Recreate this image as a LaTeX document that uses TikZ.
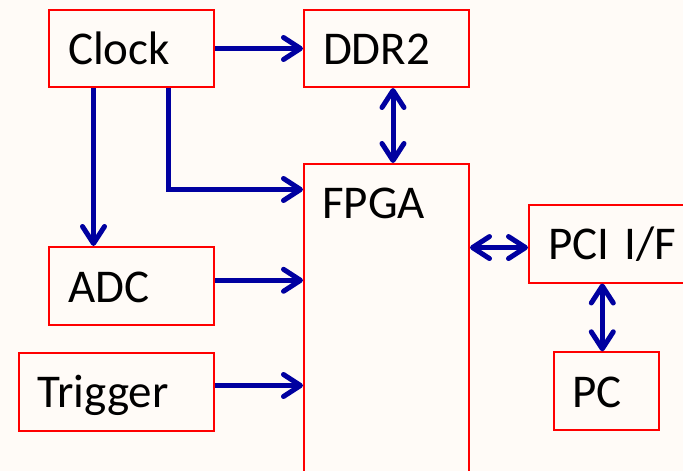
\documentclass[tikz,border=0pt]{standalone}
\usepackage{fontspec}
\setmainfont{Carlito}
\usetikzlibrary{arrows.meta}
\definecolor{bgc}{RGB}{255,251,247}
\definecolor{boxred}{RGB}{255,0,0}
\definecolor{arrblue}{RGB}{0,0,160}
\begin{document}
\begin{tikzpicture}[x=1pt,y=-1pt,
  blk/.style={draw=boxred, line width=2pt, fill=none, anchor=north west,
    inner sep=0pt, inner xsep=19pt, align=left, text height=32pt, text depth=0pt,
    font=\fontsize{47}{56}\selectfont},
  arr/.style={draw=arrblue, line width=5pt,
    -{Straight Barb[length=17pt,width=22pt,line cap=round,line join=round]}},
  darr/.style={draw=arrblue, line width=5pt,
    {Straight Barb[length=17pt,width=22pt,line cap=round,line join=round]}-{Straight Barb[length=17pt,width=22pt,line cap=round,line join=round]}}]
\fill[bgc] (0,0) rectangle (683,471);
\useasboundingbox (0,0) rectangle (683,471);
\clip (0,0) rectangle (683,471);
\node[blk, minimum width=165pt, minimum height=77pt, text width=127pt] (clock) at (48,9) {Clock};
\node[blk, minimum width=165pt, minimum height=77pt, text width=127pt] (ddr) at (303,9) {DDR2};
\node[blk, minimum width=165pt, minimum height=78pt, text width=127pt] (adc) at (48,246) {ADC};
\node[blk, minimum width=195pt, minimum height=78pt, text width=157pt] (trig) at (17.5,351.5) {Trigger};
\node[blk, minimum width=165pt, minimum height=330pt, text width=127pt,
  label={[anchor=base west, inner sep=0pt, font=\fontsize{47}{56}\selectfont, xshift=19pt, yshift=-55.6pt]north west:FPGA}] (fpga) at (303,163) {};
\node[blk, minimum width=200pt, minimum height=77.5pt, text width=162pt] (pci) at (528,204) {PCI I/F};
\node[blk, minimum width=105pt, minimum height=77.5pt, text width=67pt] (pc) at (552.5,351.3) {PC};
\draw[arr] (clock) -- (ddr);
\draw[arr] ([xshift=45.5pt]clock.south west) -- ([xshift=45.5pt]adc.north west);
\draw[arr] ([xshift=120.5pt]clock.south west) |- ([yshift=-26.5pt]fpga.north west);
\draw[darr] ([xshift=90pt]ddr.south west) -- ([xshift=90pt]fpga.north west);
\draw[arr] ([yshift=5.7pt]adc.east) -- ([yshift=5.7pt]adc.east -| fpga.west);
\draw[arr] ([yshift=6pt]trig.east) -- ([yshift=6pt]trig.east -| fpga.west);
\draw[darr] ([yshift=-3.8pt]pci.west) -- ([yshift=-3.8pt]pci.west -| fpga.east);
\draw[darr] ([xshift=74.3pt]pci.south west) -- ([xshift=74.3pt]pci.south west |- pc.north);
\end{tikzpicture}
\end{document}
